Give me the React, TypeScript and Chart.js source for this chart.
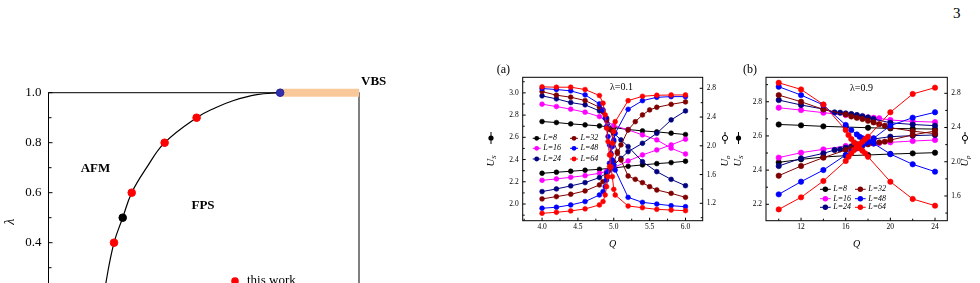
import React, { useEffect, useRef } from "react";
import { Chart, registerables } from "chart.js";

Chart.register(...registerables);

const SERIF = '"Liberation Serif", "Times New Roman", serif';

// ---------- phase diagram (left) ----------
const boundaryX = [0.172, 0.185, 0.211, 0.239, 0.268, 0.316, 0.374, 0.477, 0.536, 0.594, 0.671, 0.746];
const boundaryLambda = [0.12, 0.24, 0.4, 0.5, 0.6, 0.7, 0.8, 0.9, 0.939, 0.968, 0.992, 1.0];
const thisWorkX = [0.211, 0.268, 0.374, 0.477];
const thisWorkLambda = [0.4, 0.6, 0.8, 0.9];
const refPointX = [0.239];
const refPointLambda = [0.5];
const endPointX = [0.746];
const endPointLambda = [1.0];
const vbsX = [0.746, 1.0];
const vbsLambda = [1.0, 1.0];
const lambdaTicks = [0, 0.2, 0.4, 0.6, 0.8, 1.0];

// ---------- panel (a): lambda = 0.1 ----------
const qA8 = [4.0, 4.2, 4.4, 4.6, 4.8, 5.0, 5.2, 5.4, 5.6, 5.8, 6.0];
const usA8 = [2.742, 2.733, 2.721, 2.712, 2.703, 2.688, 2.67, 2.658, 2.649, 2.637, 2.625];
const upA8 = [1.618, 1.632, 1.646, 1.66, 1.673, 1.692, 1.715, 1.734, 1.752, 1.766, 1.785];

const qA16 = [4.0, 4.2, 4.4, 4.6, 4.8, 4.9, 5.0, 5.2, 5.4, 5.6, 5.8, 6.0];
const usA16 = [2.898, 2.877, 2.853, 2.826, 2.787, 2.748, 2.706, 2.667, 2.622, 2.577, 2.502, 2.45];
const upA16 = [1.52, 1.539, 1.562, 1.585, 1.618, 1.646, 1.697, 1.789, 1.873, 1.942, 2.012, 2.091];

const qA24 = [4.0, 4.2, 4.4, 4.6, 4.8, 4.9, 5.0, 5.1, 5.2, 5.4, 5.6, 5.8, 6.0];
const usA24 = [2.973, 2.946, 2.913, 2.892, 2.838, 2.772, 2.637, 2.577, 2.517, 2.381, 2.291, 2.222, 2.165];
const upA24 = [1.363, 1.4, 1.442, 1.488, 1.558, 1.618, 1.734, 1.826, 1.919, 2.035, 2.174, 2.36, 2.485];

const qA32 = [4.0, 4.2, 4.4, 4.6, 4.8, 4.85, 4.9, 4.95, 5.0, 5.05, 5.1, 5.2, 5.3, 5.4, 5.5, 5.6, 5.8, 6.0];
const usA32 = [3.012, 2.979, 2.961, 2.931, 2.871, 2.832, 2.757, 2.667, 2.562, 2.471, 2.396, 2.252, 2.222, 2.192, 2.156, 2.126, 2.096, 2.06];
const upA32 = [1.261, 1.293, 1.326, 1.372, 1.456, 1.502, 1.571, 1.664, 1.78, 1.896, 2.012, 2.22, 2.336, 2.429, 2.499, 2.536, 2.577, 2.61];

const qA48 = [4.0, 4.2, 4.4, 4.6, 4.8, 4.85, 4.88, 4.9, 4.92, 4.94, 4.96, 4.98, 5.0, 5.02, 5.2, 5.4, 5.6, 5.8, 6.0];
const usA48 = [3.039, 3.03, 3.018, 2.982, 2.901, 2.847, 2.772, 2.697, 2.607, 2.532, 2.456, 2.396, 2.351, 2.306, 2.06, 2.015, 2.0, 1.985, 1.976];
const upA48 = [1.131, 1.145, 1.177, 1.224, 1.316, 1.363, 1.432, 1.525, 1.641, 1.757, 1.873, 1.989, 2.081, 2.174, 2.508, 2.628, 2.675, 2.684, 2.684];

const qA64 = [4.0, 4.2, 4.4, 4.6, 4.8, 4.85, 4.88, 4.9, 4.92, 4.94, 4.96, 4.98, 5.0, 5.02, 5.2, 5.4, 5.6, 5.8, 6.0];
const usA64 = [3.054, 3.051, 3.051, 3.03, 2.976, 2.907, 2.802, 2.682, 2.562, 2.441, 2.336, 2.246, 2.132, 2.081, 1.982, 1.967, 1.952, 1.946, 1.94];
const upA64 = [1.061, 1.075, 1.094, 1.122, 1.177, 1.224, 1.316, 1.432, 1.571, 1.711, 1.873, 2.035, 2.197, 2.336, 2.628, 2.689, 2.703, 2.707, 2.707];

const ticksAQ = [4.0, 4.5, 5.0, 5.5, 6.0];
const ticksAUs = [2.0, 2.2, 2.4, 2.6, 2.8, 3.0];
const ticksAUp = [1.2, 1.6, 2.0, 2.4, 2.8];

// ---------- panel (b): lambda = 0.9 ----------
const qB8 = [10, 12, 14, 16, 18, 20, 22, 24];
const usB8 = [2.667, 2.662, 2.656, 2.652, 2.648, 2.644, 2.642, 2.64];
const upB8 = [1.993, 2.028, 2.055, 2.071, 2.079, 2.09, 2.098, 2.106];

const qB16 = [10, 12, 14, 16, 17, 17.5, 18, 18.5, 19, 20, 22, 24];
const usB16 = [2.765, 2.751, 2.736, 2.722, 2.714, 2.712, 2.708, 2.706, 2.703, 2.693, 2.685, 2.681];
const upB16 = [2.048, 2.106, 2.145, 2.184, 2.196, 2.204, 2.211, 2.215, 2.219, 2.227, 2.242, 2.254];

const qB24 = [10, 12, 14, 15, 15.5, 16, 16.5, 17, 17.5, 18, 18.5, 20, 22, 24];
const usB24 = [2.81, 2.781, 2.757, 2.738, 2.736, 2.732, 2.728, 2.722, 2.716, 2.708, 2.699, 2.677, 2.667, 2.66];
const upB24 = [1.95, 2.04, 2.098, 2.137, 2.145, 2.165, 2.18, 2.204, 2.223, 2.242, 2.266, 2.293, 2.305, 2.313];

const qB32 = [10, 12, 14, 16, 16.5, 17, 17.5, 18, 18.5, 19, 19.5, 20, 22, 24];
const usB32 = [2.839, 2.8, 2.755, 2.726, 2.714, 2.706, 2.699, 2.689, 2.679, 2.669, 2.66, 2.648, 2.628, 2.613];
const upB32 = [1.837, 1.95, 2.048, 2.137, 2.157, 2.172, 2.188, 2.204, 2.215, 2.227, 2.235, 2.254, 2.313, 2.359];

const qB48 = [10, 12, 14, 16, 16.5, 17, 17.25, 17.5, 17.75, 18, 18.5, 20, 22, 24];
const usB48 = [2.888, 2.839, 2.781, 2.664, 2.634, 2.609, 2.595, 2.586, 2.576, 2.566, 2.556, 2.494, 2.434, 2.391];
const upB48 = [1.619, 1.767, 1.903, 2.079, 2.118, 2.157, 2.176, 2.196, 2.215, 2.235, 2.274, 2.422, 2.515, 2.578];

const qB64 = [10, 12, 14, 16, 16.25, 16.5, 16.75, 17, 17.25, 17.5, 17.75, 18, 20, 22, 24];
const usB64 = [2.911, 2.872, 2.784, 2.634, 2.605, 2.582, 2.562, 2.543, 2.527, 2.513, 2.498, 2.478, 2.332, 2.231, 2.192];
const upB64 = [1.443, 1.584, 1.775, 2.009, 2.059, 2.098, 2.137, 2.176, 2.207, 2.235, 2.266, 2.293, 2.578, 2.792, 2.866];

const ticksBQ = [12, 16, 20, 24];
const ticksBUs = [2.2, 2.4, 2.6, 2.8];
const ticksBUp = [1.6, 2.0, 2.4, 2.8];

const sizeLabels = ["L=8", "L=16", "L=24", "L=32", "L=48", "L=64"];
const sizeColors = ["#000000", "#ff00ff", "#000080", "#800000", "#0000ff", "#ff0000"];

type Series = { q: number[]; us: number[]; up: number[] };

const seriesA: Series[] = [
  { q: qA8, us: usA8, up: upA8 },
  { q: qA16, us: usA16, up: upA16 },
  { q: qA24, us: usA24, up: upA24 },
  { q: qA32, us: usA32, up: upA32 },
  { q: qA48, us: usA48, up: upA48 },
  { q: qA64, us: usA64, up: upA64 },
];
const seriesB: Series[] = [
  { q: qB8, us: usB8, up: upB8 },
  { q: qB16, us: usB16, up: upB16 },
  { q: qB24, us: usB24, up: upB24 },
  { q: qB32, us: usB32, up: upB32 },
  { q: qB48, us: usB48, up: upB48 },
  { q: qB64, us: usB64, up: upB64 },
];

const toPoints = (xs: number[], ys: number[]) => xs.map((x, i) => ({ x, y: ys[i] }));
const fixedTicks = (values: number[]) => (s: any) => {
  s.ticks = values.map((v) => ({ value: v }));
};

// frame around the plot area plus inward-pointing tick marks
const frameTicks = {
  id: "frameTicks",
  beforeDatasetsDraw(chart: any, _args: any, opts: any) {
    const { ctx, chartArea: a } = chart;
    const major = opts.major ?? 3;
    const minor = opts.minor ?? 2;
    ctx.save();
    ctx.strokeStyle = "#000";
    ctx.lineWidth = 1;
    ctx.strokeRect(a.left, a.top, a.right - a.left, a.bottom - a.top);
    ctx.beginPath();
    for (const id of Object.keys(chart.scales)) {
      const s = chart.scales[id];
      if (opts.skip && opts.skip.includes(id)) continue;
      const vals: number[] = s.ticks.map((t: any) => t.value);
      const marks: [number, number][] = vals.map((v) => [v, major]);
      for (let i = 0; i < vals.length - 1; i++) marks.push([(vals[i] + vals[i + 1]) / 2, minor]);
      if (vals.length > 1) {
        const step = vals[1] - vals[0];
        marks.push([vals[0] - step / 2, minor]);
        marks.push([vals[vals.length - 1] + step / 2, minor]);
      }
      for (const [v, len] of marks) {
        if (v < s.min || v > s.max) continue;
        const p = s.getPixelForValue(v);
        if (s.isHorizontal()) {
          ctx.moveTo(p, a.bottom);
          ctx.lineTo(p, a.bottom - len);
        } else if (s.position === "left") {
          ctx.moveTo(a.left, p);
          ctx.lineTo(a.left + len, p);
        } else {
          ctx.moveTo(a.right, p);
          ctx.lineTo(a.right - len, p);
        }
      }
    }
    ctx.stroke();
    ctx.restore();
  },
};

function text(ctx: any, s: string, x: number, y: number, font: string, align = "center") {
  ctx.font = font;
  ctx.textAlign = align;
  ctx.textBaseline = "middle";
  ctx.fillStyle = "#000";
  ctx.fillText(s, x, y);
}

function phaseConfig(): any {
  return {
    type: "line",
    data: {
      datasets: [
        {
          data: toPoints(vbsX, vbsLambda),
          borderColor: "#f8c898",
          borderWidth: 8,
          borderCapStyle: "butt",
          pointRadius: 0,
          clip: false,
          order: 9,
        },
        {
          data: toPoints(boundaryX, boundaryLambda),
          borderColor: "#000",
          borderWidth: 1.2,
          pointRadius: 0,
          tension: 0.4,
          clip: false,
          order: 8,
        },
        {
          data: toPoints(thisWorkX, thisWorkLambda),
          showLine: false,
          pointRadius: 3.8,
          pointBackgroundColor: "#ff0000",
          pointBorderColor: "#ff0000",
          clip: false,
          order: 2,
        },
        {
          data: toPoints(refPointX, refPointLambda),
          showLine: false,
          pointRadius: 3.8,
          pointBackgroundColor: "#000",
          pointBorderColor: "#000",
          clip: false,
          order: 1,
        },
        {
          data: toPoints(endPointX, endPointLambda),
          showLine: false,
          pointRadius: 3.8,
          pointBackgroundColor: "#3030b0",
          pointBorderColor: "#2a2090",
          clip: false,
          order: 0,
        },
      ],
    },
    options: {
      animation: false,
      responsive: false,
      devicePixelRatio: 1,
      events: [],
      layout: { padding: { left: 0, right: 41, top: 92.7, bottom: 27.3 } },
      plugins: {
        legend: { display: false },
        tooltip: { enabled: false },
        frameTicks: { major: 4, minor: 3, skip: ["x"] },
      },
      scales: {
        x: {
          type: "linear",
          min: 0,
          max: 1,
          ticks: { display: false },
          grid: { display: false, drawTicks: false },
          border: { display: false },
          afterFit: (s: any) => {
            s.height = 30;
          },
        },
        y: {
          type: "linear",
          min: 0,
          max: 1,
          afterBuildTicks: fixedTicks(lambdaTicks),
          ticks: {
            autoSkip: false,
            padding: 7,
            color: "#000",
            font: { family: SERIF, size: 13 },
            callback: (v: any) => Number(v).toFixed(1),
          },
          grid: { display: false, drawTicks: false },
          border: { display: false },
          afterFit: (s: any) => {
            s.width = 48.5;
          },
        },
      },
    },
    plugins: [
      frameTicks,
      {
        id: "phaseText",
        afterDraw(chart: any) {
          const { ctx, chartArea: a } = chart;
          ctx.save();
          text(ctx, "AFM", a.left + 47, a.top + 76, `bold 13px ${SERIF}`);
          text(ctx, "FPS", a.left + 154.5, a.top + 113, `bold 13px ${SERIF}`);
          text(ctx, "VBS", a.right + 2, a.top - 10.7, `bold 13px ${SERIF}`, "left");
          ctx.save();
          ctx.translate(a.left - 38, a.top + 129);
          ctx.rotate(-Math.PI / 2);
          text(ctx, "λ", 0, 0, `italic 14px ${SERIF}`);
          ctx.restore();
          ctx.beginPath();
          ctx.arc(a.left + 186.5, a.top + 188.3, 3.8, 0, Math.PI * 2);
          ctx.fillStyle = "#ff0000";
          ctx.fill();
          text(ctx, "this work", a.left + 198.5, a.top + 188.3, `13px ${SERIF}`, "left");
          ctx.restore();
        },
      },
    ],
  };
}

type PanelSpec = {
  series: Series[];
  q: [number, number];
  us: [number, number];
  up: [number, number];
  qTicks: number[];
  usTicks: number[];
  upTicks: number[];
  qDecimals: number;
  pad: { left: number; right: number; top: number; bottom: number };
  yLeftWidth: number;
  yRightWidth: number;
  radius: number;
  tag: string;
  tagPos: [number, number];
  lambdaText: string;
  lambdaPos: [number, number];
  legendCols: [number, number];
  legendRows: number[];
  legendLine: number;
  titleLeftDx: number;
  titleRightDx: number;
};

function drawYTitle(ctx: any, x: number, yText: number, ySym: number, sub: string, open: boolean) {
  ctx.save();
  ctx.translate(x, yText);
  ctx.rotate(-Math.PI / 2);
  ctx.fillStyle = "#000";
  ctx.textBaseline = "middle";
  ctx.textAlign = "left";
  ctx.font = `italic 10.5px ${SERIF}`;
  const w = ctx.measureText("U").width;
  ctx.font = `italic 7px ${SERIF}`;
  const ws = ctx.measureText(sub).width;
  const x0 = -(w + ws) / 2;
  ctx.font = `italic 10.5px ${SERIF}`;
  ctx.fillText("U", x0, 0);
  ctx.font = `italic 7px ${SERIF}`;
  ctx.fillText(sub, x0 + w, 3);
  ctx.restore();
  ctx.save();
  ctx.strokeStyle = "#000";
  ctx.lineWidth = 1;
  ctx.beginPath();
  ctx.moveTo(x, ySym - 6);
  ctx.lineTo(x, ySym + 6);
  ctx.stroke();
  ctx.beginPath();
  ctx.arc(x, ySym, 2.6, 0, Math.PI * 2);
  if (open) {
    ctx.fillStyle = "#fff";
    ctx.fill();
    ctx.stroke();
  } else {
    ctx.fillStyle = "#000";
    ctx.fill();
  }
  ctx.restore();
}

function binderConfig(p: PanelSpec): any {
  const datasets: any[] = [];
  p.series.forEach((s, i) => {
    const color = sizeColors[i];
    const common = {
      borderColor: color,
      backgroundColor: color,
      pointBackgroundColor: color,
      pointBorderColor: color,
      borderWidth: 1,
      pointRadius: p.radius,
      pointBorderWidth: 0.6,
      tension: 0,
    };
    datasets.push({ ...common, label: sizeLabels[i], data: toPoints(s.q, s.us), yAxisID: "us", order: 20 - 2 * i });
    datasets.push({ ...common, label: sizeLabels[i], data: toPoints(s.q, s.up), yAxisID: "up", order: 19 - 2 * i });
  });
  const tickFont = { family: SERIF, size: 7.5 };
  return {
    type: "line",
    data: { datasets },
    options: {
      animation: false,
      responsive: false,
      devicePixelRatio: 1,
      events: [],
      layout: { padding: p.pad },
      plugins: {
        legend: { display: false },
        tooltip: { enabled: false },
        frameTicks: { major: 3, minor: 2 },
      },
      scales: {
        x: {
          type: "linear",
          min: p.q[0],
          max: p.q[1],
          afterBuildTicks: fixedTicks(p.qTicks),
          ticks: {
            autoSkip: false,
            maxRotation: 0,
            padding: 2,
            color: "#000",
            font: tickFont,
            callback: (v: any) => Number(v).toFixed(p.qDecimals),
          },
          grid: { display: false, drawTicks: false },
          border: { display: false },
          afterFit: (s: any) => {
            s.height = 20;
          },
        },
        us: {
          type: "linear",
          position: "left",
          min: p.us[0],
          max: p.us[1],
          afterBuildTicks: fixedTicks(p.usTicks),
          ticks: {
            autoSkip: false,
            padding: 4,
            color: "#000",
            font: tickFont,
            callback: (v: any) => Number(v).toFixed(1),
          },
          grid: { display: false, drawTicks: false },
          border: { display: false },
          afterFit: (s: any) => {
            s.width = p.yLeftWidth;
          },
        },
        up: {
          type: "linear",
          position: "right",
          min: p.up[0],
          max: p.up[1],
          afterBuildTicks: fixedTicks(p.upTicks),
          ticks: {
            autoSkip: false,
            padding: 4,
            color: "#000",
            font: tickFont,
            callback: (v: any) => Number(v).toFixed(1),
          },
          grid: { display: false, drawTicks: false },
          border: { display: false },
          afterFit: (s: any) => {
            s.width = p.yRightWidth;
          },
        },
      },
    },
    plugins: [
      frameTicks,
      {
        id: "panelText",
        afterDatasetsDraw(chart: any) {
          const { ctx, chartArea: a } = chart;
          ctx.save();
          // size legend, two columns of three entries
          sizeLabels.forEach((lab, i) => {
            const col = i < 3 ? 0 : 1;
            const y = a.top + p.legendRows[i % 3];
            const x0 = a.left + p.legendCols[col];
            const x1 = x0 + p.legendLine;
            ctx.strokeStyle = sizeColors[i];
            ctx.lineWidth = 1;
            ctx.beginPath();
            ctx.moveTo(x0, y);
            ctx.lineTo(x1, y);
            ctx.stroke();
            ctx.beginPath();
            ctx.arc((x0 + x1) / 2, y, p.radius, 0, Math.PI * 2);
            ctx.fillStyle = sizeColors[i];
            ctx.fill();
            text(ctx, lab, x1 + 2.5, y, `italic 8px ${SERIF}`, "left");
          });
          text(ctx, p.tag, a.left + p.tagPos[0], a.top + p.tagPos[1], `12px ${SERIF}`, "left");
          text(ctx, p.lambdaText, a.left + p.lambdaPos[0], a.top + p.lambdaPos[1], `10px ${SERIF}`, "left");
          text(ctx, "Q", (a.left + a.right) / 2, a.bottom + 23.3, `italic 10px ${SERIF}`);
          drawYTitle(ctx, a.left + p.titleLeftDx, a.top + 83.7, a.top + 60.7, "S", false);
          drawYTitle(ctx, a.right + p.titleRightDx, a.top + 83.7, a.top + 60.7, "p", true);
          ctx.restore();
        },
      },
    ],
  };
}

const panelA: PanelSpec = {
  series: seriesA,
  q: [3.73, 6.24],
  us: [1.85, 3.14],
  up: [0.958, 2.953],
  qTicks: ticksAQ,
  usTicks: ticksAUs,
  upTicks: ticksAUp,
  qDecimals: 1,
  pad: { left: 0, right: 0, top: 22.3, bottom: 42.3 },
  yLeftWidth: 42.7,
  yRightWidth: 27.3,
  radius: 2.4,
  tag: "(a)",
  tagPos: [-26, -7.6],
  lambdaText: "λ=0.1",
  lambdaPos: [87.3, 10.2],
  legendCols: [10, 47.3],
  legendRows: [61, 71, 81.7],
  legendLine: 8,
  titleLeftDx: -31.7,
  titleRightDx: 22.3,
};

const panelB: PanelSpec = {
  series: seriesB,
  q: [8.86, 25.1],
  us: [2.104, 2.943],
  up: [1.311, 2.987],
  qTicks: ticksBQ,
  usTicks: ticksBUs,
  upTicks: ticksBUp,
  qDecimals: 0,
  pad: { left: 0, right: 0, top: 22.3, bottom: 42.3 },
  yLeftWidth: 36,
  yRightWidth: 32.7,
  radius: 2.7,
  tag: "(b)",
  tagPos: [-23, -7.6],
  lambdaText: "λ=0.9",
  lambdaPos: [84, 11],
  legendCols: [54, 89],
  legendRows: [112, 121.4, 130],
  legendLine: 10.7,
  titleLeftDx: -27.5,
  titleRightDx: 17.7,
};

export default function App() {
  const phaseRef = useRef<HTMLCanvasElement>(null);
  const aRef = useRef<HTMLCanvasElement>(null);
  const bRef = useRef<HTMLCanvasElement>(null);

  useEffect(() => {
    const charts = [
      new Chart(phaseRef.current as HTMLCanvasElement, phaseConfig()),
      new Chart(aRef.current as HTMLCanvasElement, binderConfig(panelA)),
      new Chart(bRef.current as HTMLCanvasElement, binderConfig(panelB)),
    ];
    return () => charts.forEach((c) => c.destroy());
  }, []);

  return (
    <div
      style={{
        position: "absolute",
        left: 0,
        top: 0,
        width: 980,
        height: 283,
        overflow: "hidden",
        background: "#fff",
        fontFamily: SERIF,
      }}
    >
      <div style={{ position: "absolute", left: 953, top: 6, fontSize: 15, lineHeight: "15px", color: "#000" }}>3</div>
      <canvas ref={phaseRef} width={400} height={400} style={{ position: "absolute", left: 0, top: 0 }} />
      <canvas ref={aRef} width={250} height={228} style={{ position: "absolute", left: 480, top: 55 }} />
      <canvas ref={bRef} width={250} height={228} style={{ position: "absolute", left: 730, top: 55 }} />
    </div>
  );
}
